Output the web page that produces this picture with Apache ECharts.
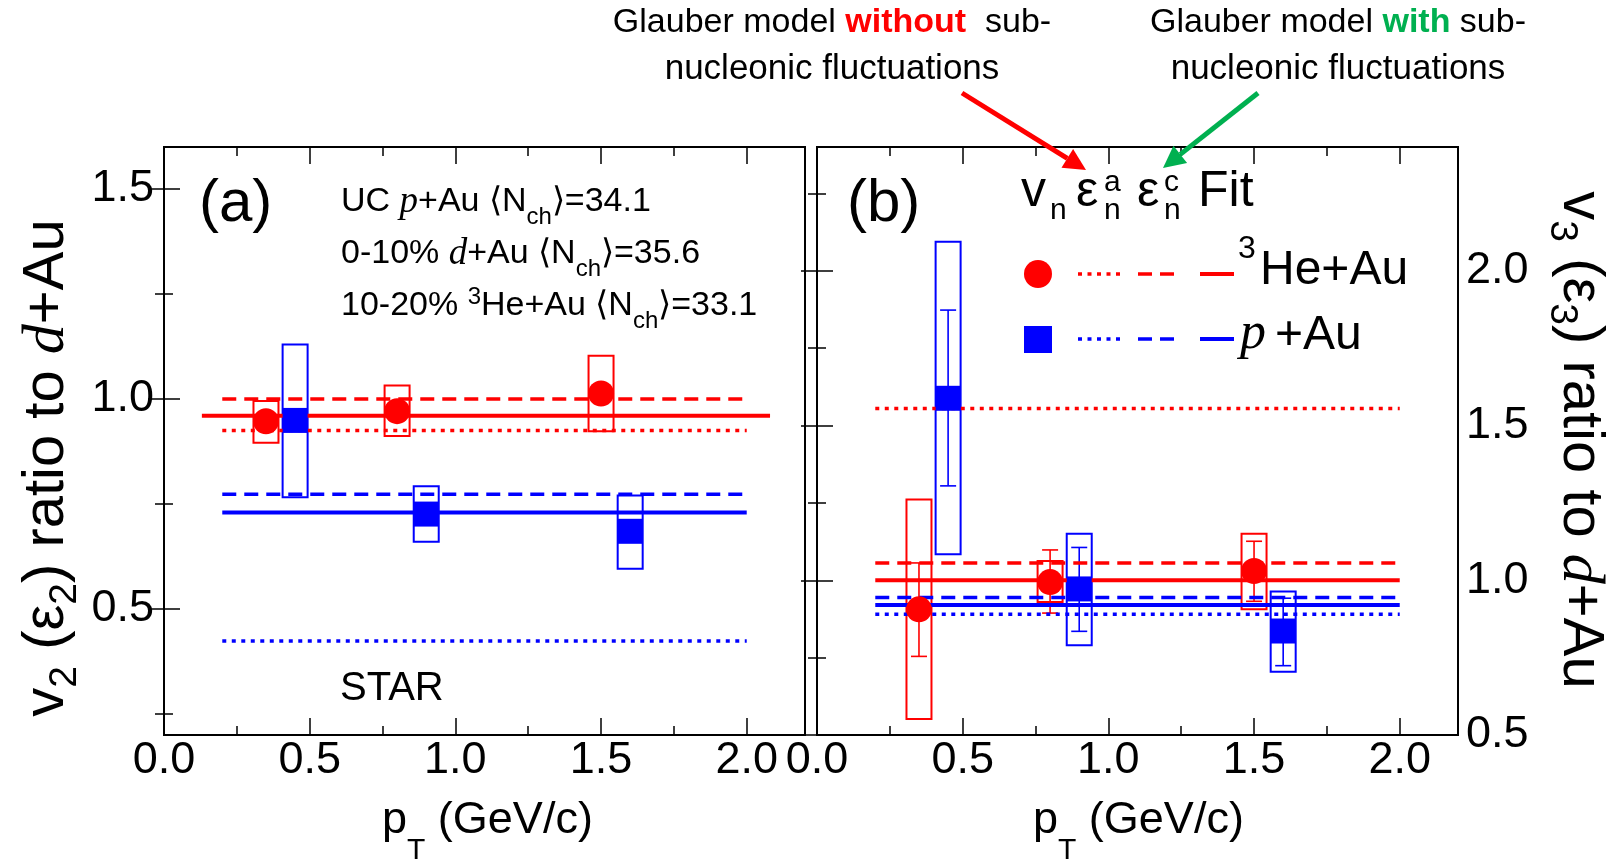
<!DOCTYPE html>
<html>
<head>
<meta charset="utf-8">
<title>v2 / v3 ratio to d+Au</title>
<script src="https://cdn.jsdelivr.net/npm/echarts/dist/echarts.min.js"></script>
<style>
  html, body { margin: 0; padding: 0; background: #fff; }
  #main { width: 1610px; height: 862px; }
</style>
</head>
<body>
<div id="main"></div>
<script>
// pT positions of the points
var ptHe = [0.35, 0.80, 1.50];
var ptP = [0.45, 0.90, 1.60];

// panel (a): v2 ratio to d+Au
var v2He = [0.947, 0.971, 1.013];
var v2HeSysLow = [0.896, 0.912, 0.923];
var v2HeSysHigh = [0.995, 1.032, 1.103];
var v2P = [0.949, 0.726, 0.685];
var v2PSysLow = [0.766, 0.660, 0.596];
var v2PSysHigh = [1.130, 0.792, 0.770];

// panel (b): v3 ratio to d+Au
var v3He = [0.906, 0.994, 1.030];
var v3HeStatLow = [0.754, 0.894, 0.932];
var v3HeStatHigh = [1.056, 1.098, 1.126];
var v3HeSysLow = [0.552, 0.930, 0.906];
var v3HeSysHigh = [1.261, 1.062, 1.150];
var v3P = [1.588, 0.972, 0.836];
var v3PStatLow = [1.305, 0.835, 0.724];
var v3PStatHigh = [1.873, 1.106, 0.942];
var v3PSysLow = [1.084, 0.790, 0.704];
var v3PSysHigh = [2.094, 1.150, 0.964];

// model lines: [eps a (dotted), eps c (dashed), fit (solid)]
var v2HeModel = [0.925, 1.000, 0.960];
var v2PModel = [0.424, 0.773, 0.730];
var v3HeModel = [1.555, 1.056, 1.000];
var v3PModel = [0.890, 0.944, 0.920];
var modelRange = [0.2, 2.0];
var v2HeFitRange = [0.13, 2.08];

// axis ticks
var xMajor = [0, 0.5, 1.0, 1.5, 2.0];
var xMinor = [0.25, 0.75, 1.25, 1.75];
var yMajorA = [0.5, 1.0, 1.5];
var yMinorA = [0.25, 0.75, 1.25];
var yMajorB = [0.5, 1.0, 1.5, 2.0];
var yMinorB = [0.75, 1.25, 1.75, 2.25];

var SANS = '"Liberation Sans", Arial, sans-serif';
var SERIF = '"Liberation Serif", "Times New Roman", serif';
var RED = '#ff0000';
var BLUE = '#0000ff';
var GREEN = '#00b050';

function axis(grid, pos, min, max, ticks, len, labels, margin) {
    return {
        type: 'value',
        gridIndex: grid,
        position: pos,
        min: min,
        max: max,
        axisLine: { show: false },
        splitLine: { show: false },
        axisTick: { show: true, inside: true, length: len, customValues: ticks,
                    lineStyle: { color: '#000', width: 1.5 } },
        axisLabel: labels ? {
            show: true, customValues: labels, margin: margin,
            formatter: function (v) { return v.toFixed(1); },
            fontSize: 45, fontFamily: SANS, color: '#000'
        } : { show: false }
    };
}

var xAxes = [
    axis(0, 'bottom', 0, 2.2, xMajor, 17, xMajor, 3),
    axis(0, 'bottom', 0, 2.2, xMinor, 9),
    axis(0, 'top', 0, 2.2, xMajor, 17),
    axis(0, 'top', 0, 2.2, xMinor, 9),
    axis(1, 'bottom', 0, 2.2, xMajor, 17, xMajor, 3),
    axis(1, 'bottom', 0, 2.2, xMinor, 9),
    axis(1, 'top', 0, 2.2, xMajor, 17),
    axis(1, 'top', 0, 2.2, xMinor, 9)
];
var yAxes = [
    axis(0, 'left', 0.2, 1.6, yMajorA, 16, yMajorA, 10),
    axis(0, 'left', 0.2, 1.6, yMinorA, 9),
    axis(0, 'right', 0.2, 1.6, yMajorA, 16),
    axis(0, 'right', 0.2, 1.6, yMinorA, 9),
    axis(1, 'left', 0.5, 2.4, yMajorB, 16),
    axis(1, 'left', 0.5, 2.4, yMinorB, 9),
    axis(1, 'right', 0.5, 2.4, yMajorB, 16, yMajorB, 8),
    axis(1, 'right', 0.5, 2.4, yMinorB, 9)
];

function zip3(a, b, c) {
    var out = [];
    for (var i = 0; i < a.length; i++) {
        out.push([a[i], b[i], c[i]]);
    }
    return out;
}

// systematic boxes
function boxSeries(xi, yi, xs, lo, hi, color) {
    return {
        type: 'custom', xAxisIndex: xi, yAxisIndex: yi, z: 2, silent: true,
        data: zip3(xs, lo, hi),
        encode: { x: 0, y: [1, 2] },
        renderItem: function (params, api) {
            var top = api.coord([api.value(0), api.value(2)]);
            var bot = api.coord([api.value(0), api.value(1)]);
            return {
                type: 'rect',
                shape: { x: top[0] - 12.5, y: top[1], width: 25, height: bot[1] - top[1] },
                style: { fill: 'none', stroke: color, lineWidth: 2 }
            };
        }
    };
}

// statistical error bars
function errSeries(xi, yi, xs, lo, hi, color) {
    return {
        type: 'custom', xAxisIndex: xi, yAxisIndex: yi, z: 3, silent: true,
        data: zip3(xs, lo, hi),
        encode: { x: 0, y: [1, 2] },
        renderItem: function (params, api) {
            var top = api.coord([api.value(0), api.value(2)]);
            var bot = api.coord([api.value(0), api.value(1)]);
            var st = { stroke: color, lineWidth: 1.6 };
            return {
                type: 'group',
                children: [
                    { type: 'line', shape: { x1: top[0], y1: top[1], x2: bot[0], y2: bot[1] }, style: st },
                    { type: 'line', shape: { x1: top[0] - 8, y1: top[1], x2: top[0] + 8, y2: top[1] }, style: st },
                    { type: 'line', shape: { x1: bot[0] - 8, y1: bot[1], x2: bot[0] + 8, y2: bot[1] }, style: st }
                ]
            };
        }
    };
}

function modelLine(xi, yi, range, y, color, type, width) {
    return {
        type: 'line', xAxisIndex: xi, yAxisIndex: yi, z: 3, silent: true,
        symbol: 'none',
        data: [[range[0], y], [range[1], y]],
        lineStyle: { color: color, width: width || 3.5, type: type, cap: 'butt' }
    };
}

function points(xi, yi, xs, ys, color, symbol, size) {
    var d = [];
    for (var i = 0; i < xs.length; i++) d.push([xs[i], ys[i]]);
    return {
        type: 'scatter', xAxisIndex: xi, yAxisIndex: yi, z: 5, silent: true,
        symbol: symbol, symbolSize: size, data: d,
        itemStyle: { color: color, opacity: 1 }
    };
}

var DOT = [4, 5.5];
var DASH = [14, 8];

var series = [
    // panel (a)
    boxSeries(0, 0, ptHe, v2HeSysLow, v2HeSysHigh, RED),
    boxSeries(0, 0, ptP, v2PSysLow, v2PSysHigh, BLUE),
    modelLine(0, 0, modelRange, v2HeModel[0], RED, DOT),
    modelLine(0, 0, modelRange, v2HeModel[1], RED, DASH),
    modelLine(0, 0, v2HeFitRange, v2HeModel[2], RED, 'solid', 4),
    modelLine(0, 0, modelRange, v2PModel[0], BLUE, DOT),
    modelLine(0, 0, modelRange, v2PModel[1], BLUE, DASH),
    modelLine(0, 0, modelRange, v2PModel[2], BLUE, 'solid', 4),
    points(0, 0, ptHe, v2He, RED, 'circle', 26),
    points(0, 0, ptP, v2P, BLUE, 'rect', 25),
    // panel (b)
    boxSeries(4, 6, ptHe, v3HeSysLow, v3HeSysHigh, RED),
    boxSeries(4, 6, ptP, v3PSysLow, v3PSysHigh, BLUE),
    modelLine(4, 6, modelRange, v3HeModel[0], RED, DOT),
    modelLine(4, 6, modelRange, v3HeModel[1], RED, DASH),
    modelLine(4, 6, modelRange, v3HeModel[2], RED, 'solid', 4),
    modelLine(4, 6, modelRange, v3PModel[0], BLUE, DOT),
    modelLine(4, 6, modelRange, v3PModel[1], BLUE, DASH),
    modelLine(4, 6, modelRange, v3PModel[2], BLUE, 'solid', 4),
    errSeries(4, 6, ptHe, v3HeStatLow, v3HeStatHigh, RED),
    errSeries(4, 6, ptP, v3PStatLow, v3PStatHigh, BLUE),
    points(4, 6, ptHe, v3He, RED, 'circle', 26),
    points(4, 6, ptP, v3P, BLUE, 'rect', 25)
];

// plain text placed by its baseline
function txt(x, base, str, size, extra) {
    var style = { text: str, fontSize: size, fontFamily: SANS, fill: '#000',
                  align: 'left', verticalAlign: 'middle' };
    if (extra) for (var k in extra) style[k] = extra[k];
    return { type: 'text', x: x, y: base - 0.35 * size, z: 10, silent: true, style: style };
}

function tok(size, family, lineH, extra) {
    var s = { fontSize: size, fontFamily: family || SANS, fill: '#000' };
    if (lineH) s.lineHeight = lineH;
    if (extra) for (var k in extra) s[k] = extra[k];
    return s;
}

// rich text line used for panel (a) labels
var infoRich = {
    n: tok(34, SANS, 48),
    i: tok(37, SERIF, 48, { fontStyle: 'italic' }),
    s: tok(24, SANS, null, { height: 18, verticalAlign: 'bottom' }),
    u: tok(24, SANS, null, { height: 30, verticalAlign: 'top' })
};
function info(x, base, str) {
    return { type: 'text', x: x, y: base - 12, z: 10, silent: true,
             style: { text: str, rich: infoRich, align: 'left', verticalAlign: 'middle' } };
}

var yNameRich = {
    n: tok(58, SANS, 78),
    i: tok(60, SERIF, 78, { fontStyle: 'italic' }),
    s: tok(39, SANS, null, { height: 42, verticalAlign: 'bottom' })
};
var xNameRich = {
    n: tok(45, SANS, 80),
    s: tok(30, SANS, null, { height: 20, verticalAlign: 'bottom' })
};

function arrow(x0, y0, x1, y1, color) {
    var dx = x1 - x0, dy = y1 - y0;
    var len = Math.sqrt(dx * dx + dy * dy);
    var ux = dx / len, uy = dy / len;
    var bx = x1 - 22 * ux, by = y1 - 22 * uy;
    return [
        { type: 'line', z: 10, silent: true, shape: { x1: x0, y1: y0, x2: bx, y2: by },
          style: { stroke: color, lineWidth: 5 } },
        { type: 'polygon', z: 10, silent: true,
          shape: { points: [[x1, y1], [bx - 11 * uy, by + 11 * ux], [bx + 11 * uy, by - 11 * ux]] },
          style: { fill: color } }
    ];
}

function legendLines(y, color) {
    return [
        { type: 'line', z: 10, silent: true, shape: { x1: 1078, y1: y, x2: 1125, y2: y },
          style: { stroke: color, lineWidth: 3.5, lineDash: DOT } },
        { type: 'line', z: 10, silent: true, shape: { x1: 1138, y1: y, x2: 1178, y2: y },
          style: { stroke: color, lineWidth: 3.5, lineDash: DASH } },
        { type: 'line', z: 10, silent: true, shape: { x1: 1200, y1: y, x2: 1234, y2: y },
          style: { stroke: color, lineWidth: 4 } }
    ];
}

var annRich = {
    r: tok(34, SANS, null, { fill: RED, fontWeight: 'bold' }),
    g: tok(34, SANS, null, { fill: GREEN, fontWeight: 'bold' })
};

var graphics = [
    txt(199, 225, '(a)', 60),
    txt(847, 225, '(b)', 60),
    info(341, 214, '{n|UC }{i|p}{n|+Au ⟨N}{s|ch}{n|⟩=34.1}'),
    info(341, 266, '{n|0-10% }{i|d}{n|+Au ⟨N}{s|ch}{n|⟩=35.6}'),
    info(341, 318, '{n|10-20% }{u|3}{n|He+Au ⟨N}{s|ch}{n|⟩=33.1}'),
    txt(340, 703, 'STAR', 40),
    // panel (b) title
    txt(1021, 210, 'v', 50),
    txt(1050, 221, 'n', 30),
    txt(1076, 210, 'ε', 50),
    txt(1104, 193, 'a', 30),
    txt(1104, 221, 'n', 30),
    txt(1137, 210, 'ε', 50),
    txt(1164, 193, 'c', 30),
    txt(1164, 221, 'n', 30),
    txt(1198, 210, 'Fit', 50),
    // legend
    { type: 'circle', z: 10, silent: true, shape: { cx: 1038, cy: 274, r: 14 }, style: { fill: RED } },
    { type: 'rect', z: 10, silent: true, shape: { x: 1024, y: 326, width: 28, height: 27 }, style: { fill: BLUE } },
    txt(1238, 260, '3', 32),
    txt(1260, 288, 'He+Au', 48),
    txt(1240, 353, 'p', 52, { fontFamily: SERIF, fontStyle: 'italic' }),
    txt(1275, 353, '+Au', 48),
    // axis titles
    { type: 'text', x: 47, y: 468, rotation: Math.PI / 2, z: 10, silent: true,
      style: { text: '{n|v}{s|2}{n| (ε}{s|2}{n|) ratio to }{i|d}{n|+Au}', rich: yNameRich,
               align: 'center', verticalAlign: 'middle' } },
    { type: 'text', x: 1580, y: 440, rotation: -Math.PI / 2, z: 10, silent: true,
      style: { text: '{n|v}{s|3}{n| (ε}{s|3}{n|) ratio to }{i|d}{n|+Au}', rich: yNameRich,
               align: 'center', verticalAlign: 'middle' } },
    { type: 'text', x: 382, y: 821, z: 10, silent: true,
      style: { text: '{n|p}{s|T}{n| (GeV/c)}', rich: xNameRich, align: 'left', verticalAlign: 'middle' } },
    { type: 'text', x: 1033, y: 821, z: 10, silent: true,
      style: { text: '{n|p}{s|T}{n| (GeV/c)}', rich: xNameRich, align: 'left', verticalAlign: 'middle' } },
    // annotations above the plot
    { type: 'text', x: 832, y: 23, z: 10, silent: true,
      style: { text: 'Glauber model {r|without}  sub-', rich: annRich, fontSize: 34, fontFamily: SANS,
               fill: '#000', align: 'center', verticalAlign: 'middle' } },
    txt(832, 82, 'nucleonic fluctuations', 35, { align: 'center' }),
    { type: 'text', x: 1338, y: 23, z: 10, silent: true,
      style: { text: 'Glauber model {g|with} sub-', rich: annRich, fontSize: 34, fontFamily: SANS,
               fill: '#000', align: 'center', verticalAlign: 'middle' } },
    txt(1338, 82, 'nucleonic fluctuations', 35, { align: 'center' })
];
graphics = graphics.concat(legendLines(274, RED), legendLines(339, BLUE),
    arrow(962, 93, 1086, 170, RED), arrow(1258, 93, 1163, 168, GREEN));

var chart = echarts.init(document.getElementById('main'));
var option = {
    animation: false,
    backgroundColor: '#fff',
    grid: [
        { left: 164, top: 147, width: 641, height: 588, show: true, borderColor: '#000', borderWidth: 2 },
        { left: 817, top: 147, width: 641, height: 588, show: true, borderColor: '#000', borderWidth: 2 }
    ],
    xAxis: xAxes,
    yAxis: yAxes,
    series: series,
    graphic: graphics
};
chart.setOption(option);
</script>
</body>
</html>
